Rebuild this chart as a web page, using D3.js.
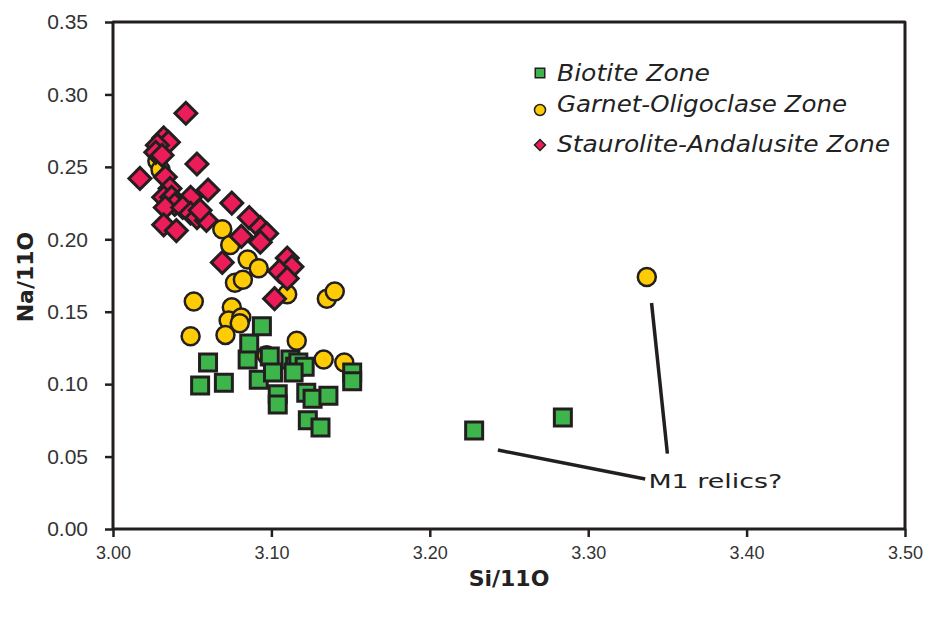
<!DOCTYPE html>
<html>
<head>
<meta charset="utf-8">
<script src="https://cdn.jsdelivr.net/npm/d3@7"></script>
<style>
  body { margin: 0; background: #fff; }
  svg { display: block; }
</style>
</head>
<body>
<svg id="chart" width="928" height="619"></svg>
<script>
// Biotite Zone (squares) [Si/11O, Na/11O]
const biotite = [
  [3.055, 0.099], [3.060, 0.115], [3.070, 0.101], [3.085, 0.117], [3.086, 0.128],
  [3.094, 0.140], [3.092, 0.103], [3.099, 0.119], [3.101, 0.108], [3.104, 0.093],
  [3.104, 0.086], [3.112, 0.117], [3.115, 0.112], [3.117, 0.115], [3.121, 0.112],
  [3.114, 0.108], [3.122, 0.094], [3.126, 0.090], [3.136, 0.092], [3.123, 0.075],
  [3.131, 0.070], [3.151, 0.108], [3.151, 0.102], [3.228, 0.068], [3.284, 0.077]
];

// Garnet-Oligoclase Zone (circles)
const garnet = [
  [3.028, 0.254], [3.030, 0.248], [3.069, 0.207], [3.074, 0.196], [3.077, 0.170],
  [3.082, 0.172], [3.085, 0.186], [3.092, 0.180], [3.110, 0.162], [3.051, 0.157],
  [3.049, 0.133], [3.075, 0.153], [3.073, 0.144], [3.081, 0.146], [3.080, 0.142],
  [3.071, 0.134], [3.135, 0.159], [3.140, 0.164], [3.116, 0.130], [3.097, 0.120],
  [3.133, 0.117], [3.146, 0.115], [3.337, 0.174]
];

// Staurolite-Andalusite Zone (diamonds)
const staurolite = [
  [3.046, 0.287], [3.032, 0.270], [3.035, 0.267], [3.028, 0.265], [3.027, 0.260],
  [3.031, 0.258], [3.053, 0.252], [3.017, 0.242], [3.033, 0.243], [3.036, 0.235],
  [3.060, 0.234], [3.032, 0.229], [3.037, 0.229], [3.049, 0.229], [3.039, 0.224],
  [3.033, 0.222], [3.044, 0.222], [3.049, 0.218], [3.053, 0.215], [3.059, 0.213],
  [3.032, 0.210], [3.040, 0.206], [3.055, 0.220], [3.075, 0.225], [3.086, 0.215],
  [3.093, 0.208], [3.097, 0.204], [3.081, 0.202], [3.093, 0.198], [3.069, 0.184],
  [3.110, 0.187], [3.113, 0.181], [3.105, 0.178], [3.110, 0.173], [3.102, 0.159]
];

const xTicks = [3.0, 3.1, 3.2, 3.3, 3.4, 3.5];
const yTicks = [0, 0.05, 0.10, 0.15, 0.20, 0.25, 0.30, 0.35];

const legendLabels = ["Biotite Zone", "Garnet-Oligoclase Zone", "Staurolite-Andalusite Zone"];

// annotation "M1 relics?" with its two pointer lines, in data units
const relicLabel = { text: "M1 relics?", x: 3.338, y: 0.033 };
const relicLines = [
  [[3.243, 0.0545], [3.336, 0.0345]],
  [[3.340, 0.156], [3.350, 0.052]]
];

const ink = "#231f20";
const colors = { biotite: "#3db54b", garnet: "#ffcb05", staurolite: "#ec1c58" };

const margin = { top: 22, right: 23, bottom: 90, left: 113 };
const width = 928, height = 619;

const svg = d3.select("#chart");

const x = d3.scaleLinear()
  .domain([3.0, 3.5])
  .range([margin.left, width - margin.right]);

const y = d3.scaleLinear()
  .domain([0, 0.35])
  .range([height - margin.bottom, margin.top]);

// axes
const xAxis = svg.append("g")
  .attr("transform", `translate(0, ${y(0)})`)
  .call(d3.axisBottom(x).tickValues(xTicks).tickSize(8).tickPadding(9).tickFormat(d3.format(".2f")));

const yAxis = svg.append("g")
  .attr("transform", `translate(${x(3.0)}, 0)`)
  .call(d3.axisLeft(y).tickValues(yTicks).tickSize(8).tickPadding(17).tickFormat(d3.format(".2f")));

[xAxis, yAxis].forEach((g) => {
  g.select(".domain").remove();
  g.selectAll(".tick line").attr("stroke", ink).attr("stroke-width", 2.5);
  g.selectAll(".tick text")
    .attr("fill", "#333")
    .attr("font-family", "Liberation Sans, Arial, sans-serif");
});
xAxis.attr("font-size", 18);
yAxis.attr("font-size", 21);

// frame
svg.append("rect")
  .attr("x", x(3.0))
  .attr("y", y(0.35))
  .attr("width", x(3.5) - x(3.0))
  .attr("height", y(0) - y(0.35))
  .attr("fill", "none")
  .attr("stroke", ink)
  .attr("stroke-width", 3)
  .attr("stroke-linejoin", "round");

// axis titles
svg.append("text")
  .attr("x", (x(3.0) + x(3.5)) / 2)
  .attr("y", 586)
  .attr("text-anchor", "middle")
  .attr("font-family", "DejaVu Sans, sans-serif")
  .attr("font-weight", "bold")
  .attr("font-size", 22)
  .attr("fill", "#222")
  .text("Si/11O");

svg.append("text")
  .attr("transform", `translate(33, 277) rotate(-90)`)
  .attr("text-anchor", "middle")
  .attr("font-family", "DejaVu Sans, sans-serif")
  .attr("font-weight", "bold")
  .attr("font-size", 22)
  .attr("fill", "#222")
  .text("Na/11O");

// markers
const squareSym = d3.symbol(d3.symbolSquare, 289);
const diamondSym = d3.symbol(d3.symbolSquare, 240);

svg.append("g")
  .selectAll("circle")
  .data(garnet)
  .enter()
  .append("circle")
  .attr("cx", (d) => x(d[0]))
  .attr("cy", (d) => y(d[1]))
  .attr("r", 9)
  .attr("fill", colors.garnet)
  .attr("stroke", ink)
  .attr("stroke-width", 2.5);

svg.append("g")
  .selectAll("path")
  .data(biotite)
  .enter()
  .append("path")
  .attr("d", squareSym)
  .attr("transform", (d) => `translate(${x(d[0])}, ${y(d[1])})`)
  .attr("fill", colors.biotite)
  .attr("stroke", ink)
  .attr("stroke-width", 3);

svg.append("g")
  .selectAll("path")
  .data(staurolite)
  .enter()
  .append("path")
  .attr("d", diamondSym)
  .attr("transform", (d) => `translate(${x(d[0])}, ${y(d[1])}) rotate(45)`)
  .attr("fill", colors.staurolite)
  .attr("stroke", ink)
  .attr("stroke-width", 3);

// annotation
svg.append("g")
  .selectAll("line")
  .data(relicLines)
  .enter()
  .append("line")
  .attr("x1", (d) => x(d[0][0]))
  .attr("y1", (d) => y(d[0][1]))
  .attr("x2", (d) => x(d[1][0]))
  .attr("y2", (d) => y(d[1][1]))
  .attr("stroke", ink)
  .attr("stroke-width", 3.5);

svg.append("text")
  .attr("x", x(relicLabel.x))
  .attr("y", y(relicLabel.y))
  .attr("dy", "0.35em")
  .attr("font-family", "DejaVu Sans, sans-serif")
  .attr("font-size", 20)
  .attr("fill", "#222")
  .attr("textLength", 134)
  .attr("lengthAdjust", "spacingAndGlyphs")
  .text(relicLabel.text);

// legend
const legend = svg.append("g").attr("transform", "translate(540, 0)");
const legendRows = [
  { label: legendLabels[0], cy: 73, ty: 81, len: 153, kind: "square" },
  { label: legendLabels[1], cy: 110, ty: 112, len: 290, kind: "circle" },
  { label: legendLabels[2], cy: 145, ty: 152, len: 333, kind: "diamond" }
];

legendRows.forEach((row) => {
  if (row.kind === "circle") {
    legend.append("circle")
      .attr("cx", 0).attr("cy", row.cy).attr("r", 5.5)
      .attr("fill", colors.garnet).attr("stroke", ink).attr("stroke-width", 1.5);
  } else if (row.kind === "square") {
    legend.append("path")
      .attr("d", d3.symbol(d3.symbolSquare, 90))
      .attr("transform", `translate(0, ${row.cy})`)
      .attr("fill", colors.biotite).attr("stroke", ink).attr("stroke-width", 1.5);
  } else {
    legend.append("path")
      .attr("d", d3.symbol(d3.symbolSquare, 60))
      .attr("transform", `translate(0, ${row.cy}) rotate(45)`)
      .attr("fill", colors.staurolite).attr("stroke", ink).attr("stroke-width", 1.5);
  }
  legend.append("text")
    .attr("x", 17)
    .attr("y", row.ty)
    .attr("font-family", "DejaVu Sans, sans-serif")
    .attr("font-style", "italic")
    .attr("font-size", 23)
    .attr("fill", "#222")
    .attr("textLength", row.len)
    .attr("lengthAdjust", "spacingAndGlyphs")
    .text(row.label);
});
</script>
</body>
</html>
